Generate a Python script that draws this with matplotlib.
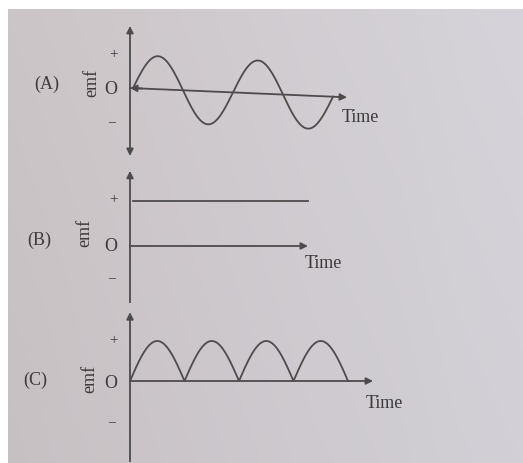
import numpy as np
import matplotlib.pyplot as plt
import matplotlib.transforms as mtransforms

# canvas size in pixels
W, H = 523, 464

# chart content
panel_names = ["(A)", "(B)", "(C)"]
y_label = "emf"
x_label = "Time"
level_marks = ["+", "O", "\u2013"]

# (A) alternating emf: two full cycles, slightly tilted in the photo
sine_cycles = 2
sine_start = 0.03
sine_tilt = 0.13
# (B) steady emf
dc_level = 1.0
dc_start, dc_end = 0.03, 1.78
# (C) rectified emf: four humps
rect_humps = 4

t_sine = np.linspace(sine_start, sine_start + sine_cycles, 400)
emf_sine = np.sin(2 * np.pi * (t_sine - sine_start))
t_dc = np.array([dc_start, dc_end])
emf_dc = np.array([dc_level, dc_level])
t_rect = np.linspace(0, rect_humps / 2, 400)
emf_rect = np.abs(np.sin(2 * np.pi * t_rect))

LC = "#4e4b4d"
TC = "#3d3a3c"
FONT = "Liberation Serif"

fig = plt.figure(figsize=(W / 100, H / 100), dpi=100)

# photo-like paper background
bg = fig.add_axes([0, 0, 1, 1])
xx = np.linspace(0, 1, W)[None, :, None]
yy = np.linspace(0, 1, H)[:, None, None]
tl = np.array([204, 197, 199]) / 255
tr = np.array([214, 212, 218]) / 255
bl = np.array([199, 192, 195]) / 255
br = np.array([210, 208, 214]) / 255
img = (tl * (1 - xx) * (1 - yy) + tr * xx * (1 - yy)
       + bl * (1 - xx) * yy + br * xx * yy)
img[:10, :, :] = 1.0
img[:, :8, :] = 1.0
bg.imshow(img, extent=(0, W, H, 0), aspect="auto")
bg.axis("off")


def panel(ox, oy, sx, sy):
    ax = fig.add_axes([0, 0, 1, 1])
    ax.set_xlim(-ox / sx, (W - ox) / sx)
    ax.set_ylim(-(H - oy) / sy, oy / sy)
    ax.axis("off")
    ax.patch.set_alpha(0)
    return ax


def arrow(ax, p0, p1, coords="data", style="-|>"):
    ax.annotate("", xy=p1, xytext=p0, xycoords=coords, textcoords=coords,
                arrowprops=dict(arrowstyle=style, color=LC, lw=1.3,
                                mutation_scale=10, shrinkA=0, shrinkB=0))


def ptext(x, y, s, size=13, **kw):
    fig.text(x / W, 1 - y / H, s, ha="center", va="center", color=TC,
             fontsize=size, family=FONT, **kw)


# ---- (A) ----
axA = panel(130, 89, 100, 33)
tilt = mtransforms.Affine2D(np.array([[1, 0, 0], [-sine_tilt, 1, 0], [0, 0, 1]])) + axA.transData
axA.plot(t_sine, emf_sine, color=LC, lw=1.3, transform=tilt)
arrow(axA, (0.0, 0), (2.17, 0), coords=tilt)
arrow(axA, (0.12, 0), (0.0, 0), coords=tilt)
arrow(axA, (0, 0), (0, 1.88))
arrow(axA, (0, 0), (0, -2.06))

# ---- (B) ----
axB = panel(130, 247, 100, 45)
axB.plot(t_dc, emf_dc, color=LC, lw=1.3)
arrow(axB, (0, 0), (1.78, 0))
arrow(axB, (0, 0), (0, 1.67))
axB.plot([0, 0], [0, -1.25], color=LC, lw=1.3)

# ---- (C) ----
axC = panel(130, 382, 109, 40)
axC.plot(t_rect, emf_rect, color=LC, lw=1.3)
arrow(axC, (0, 0), (2.23, 0))
arrow(axC, (0, 0), (0, 1.72))
axC.plot([0, 0], [0, -2.0], color=LC, lw=1.3)

# labels
ptext(47, 84, panel_names[0])
ptext(39, 240, panel_names[1])
ptext(35, 380, panel_names[2])

for x, y in [(92, 83), (85, 233), (90, 379)]:
    ptext(x, y, y_label, rotation=90)

for (yp, y0, ym) in [(55, 89, 123), (200, 247, 279), (341, 383, 423)]:
    ptext(114, yp, level_marks[0], size=11)
    ptext(111, y0, level_marks[1], size=13)
    ptext(112, ym, level_marks[2], size=10)

ptext(360, 118, x_label)
ptext(323, 264, x_label)
ptext(384, 404, x_label)

fig.savefig("out.png", dpi=100)
